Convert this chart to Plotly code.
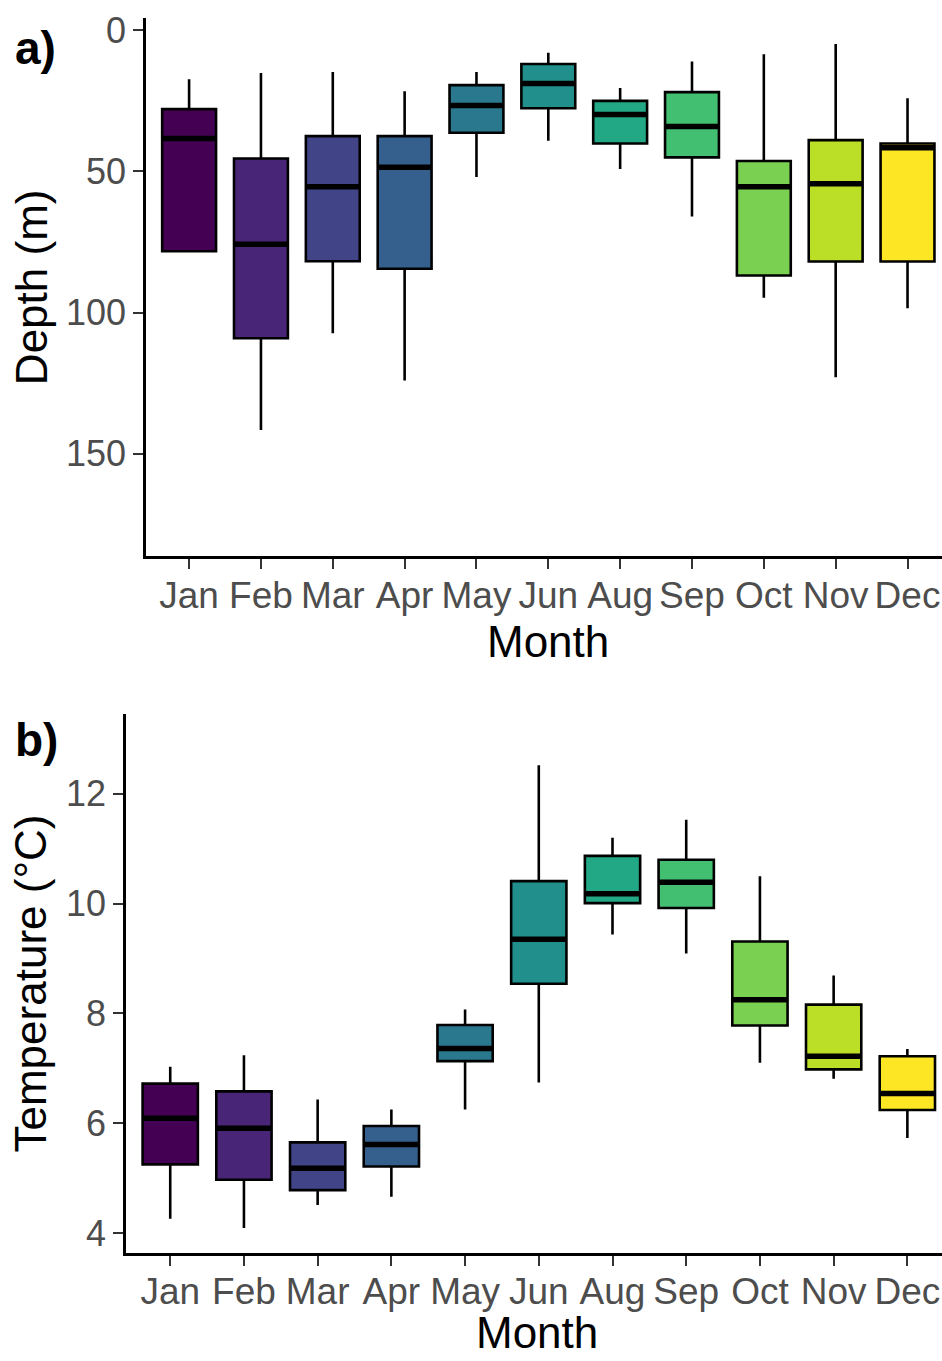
import plotly.graph_objects as go

months = ["Jan", "Feb", "Mar", "Apr", "May", "Jun", "Aug", "Sep", "Oct", "Nov", "Dec"]
colors = ["#440154", "#482576", "#414487", "#35608D", "#2A788E", "#21908C",
          "#22A884", "#43BF71", "#7AD151", "#BBDF27", "#FDE725"]

# Panel a: depth (m)
depth_min = [17.3, 15.1, 14.8, 21.6, 14.8, 7.9, 20.4, 11.0, 8.5, 4.8, 24.1]
depth_q1 = [27.9, 45.4, 37.5, 37.5, 19.4, 11.9, 25.0, 21.9, 46.3, 38.9, 40.1]
depth_med = [38.3, 75.8, 55.4, 48.5, 26.6, 18.8, 29.8, 34.1, 55.4, 54.4, 41.6]
depth_q3 = [78.3, 109.1, 81.8, 84.5, 36.3, 27.6, 40.1, 45.0, 86.9, 81.9, 81.9]
depth_max = [78.3, 141.6, 107.3, 124.1, 52.0, 39.1, 49.1, 66.0, 94.8, 122.9, 98.5]

# Panel b: temperature (°C)
temp_min = [4.26, 4.09, 4.51, 4.66, 6.25, 6.74, 9.44, 9.09, 7.10, 6.81, 5.73]
temp_q1 = [5.25, 4.97, 4.78, 5.21, 7.13, 8.54, 10.01, 9.92, 7.78, 6.98, 6.24]
temp_med = [6.09, 5.91, 5.18, 5.61, 7.36, 9.35, 10.18, 10.39, 8.25, 7.22, 6.54]
temp_q3 = [6.72, 6.58, 5.65, 5.95, 7.79, 10.41, 10.87, 10.80, 9.31, 8.16, 7.22]
temp_max = [7.03, 7.24, 6.43, 6.25, 8.07, 12.52, 11.20, 11.53, 10.50, 8.69, 7.35]

depth_ticks = [0, 50, 100, 150]
temp_ticks = [4, 6, 8, 10, 12]

FONT = "Liberation Sans, Arial, Helvetica, sans-serif"
W, H = 942, 1361
BOX_W = 0.75

fig = go.Figure()


def add_panel(xa, ya, vmin, q1, med, q3, vmax):
    for i, m in enumerate(months):
        fig.add_trace(go.Box(
            x=[i], q1=[q1[i]], median=[med[i]], q3=[q3[i]],
            lowerfence=[vmin[i]], upperfence=[vmax[i]],
            width=BOX_W, whiskerwidth=0, boxpoints=False,
            fillcolor=colors[i], line=dict(color="black", width=2.6),
            showlegend=False, hoverinfo="skip", xaxis=xa, yaxis=ya, name=m))
        fig.add_trace(go.Scatter(
            x=[i - BOX_W / 2, i + BOX_W / 2], y=[med[i], med[i]], mode="lines",
            line=dict(color="black", width=5.5), showlegend=False,
            hoverinfo="skip", xaxis=xa, yaxis=ya))


add_panel("x", "y", depth_min, depth_q1, depth_med, depth_q3, depth_max)
add_panel("x2", "y2", temp_min, temp_q1, temp_med, temp_q3, temp_max)

axis_common = dict(
    showline=True, linecolor="black", linewidth=2.6, mirror=False,
    ticks="outside", ticklen=10, tickwidth=2.2, tickcolor="#333333",
    showgrid=False, zeroline=False, fixedrange=True,
)
xfont = dict(family=FONT, size=37, color="#4D4D4D")
yfont = dict(family=FONT, size=36, color="#4D4D4D")

fig.update_layout(
    width=W, height=H, margin=dict(l=0, r=0, t=0, b=0),
    paper_bgcolor="white", plot_bgcolor="white", boxmode="overlay",
    font=dict(family=FONT),
    xaxis=dict(domain=[146 / W, 1], range=[-0.6, 10.48], anchor="y",
               tickvals=list(range(len(months))), ticktext=months,
               tickfont=xfont, ticklabelstandoff=-6, **axis_common),
    yaxis=dict(domain=[1 - 552 / H, 1 - 10 / H], range=[186.4, -4.4], anchor="x",
               tickvals=depth_ticks, tickfont=yfont, **axis_common),
    xaxis2=dict(domain=[126 / W, 1], range=[-0.6, 10.47], anchor="y2",
                tickvals=list(range(len(months))), ticktext=months,
                tickfont=xfont, ticklabelstandoff=-6, **axis_common),
    yaxis2=dict(domain=[1 - 1253 / H, 1 - 711 / H], range=[3.64, 13.45], anchor="x2",
                tickvals=temp_ticks, tickfont=yfont, **axis_common),
)

ann = []
ann.append(dict(text="<b>a)</b>", x=13 / W, y=1 - 40 / H, xanchor="left", yanchor="middle"))
ann.append(dict(text="<b>b)</b>", x=13 / W, y=1 - 737 / H, xanchor="left", yanchor="middle"))
for a in ann:
    a.update(xref="paper", yref="paper", showarrow=False,
             font=dict(family=FONT, size=46, color="black"))

titles = [
    dict(text="Month", x=548 / W, y=1 - 638 / H, textangle=0, yanchor="middle"),
    dict(text="Month", x=537 / W, y=0.001, textangle=0, yanchor="bottom"),
    dict(text="Depth (m)", x=31 / W, y=1 - 281 / H, textangle=-90, yanchor="middle"),
    dict(text="Temperature (°C)", x=31 / W, y=1 - 982 / H, textangle=-90, yanchor="middle"),
]
for t in titles:
    t.update(xref="paper", yref="paper", showarrow=False, xanchor="center",
             font=dict(family=FONT, size=44, color="black"))
ann.extend(titles)
fig.update_layout(annotations=ann)

fig.write_html("out.html")
